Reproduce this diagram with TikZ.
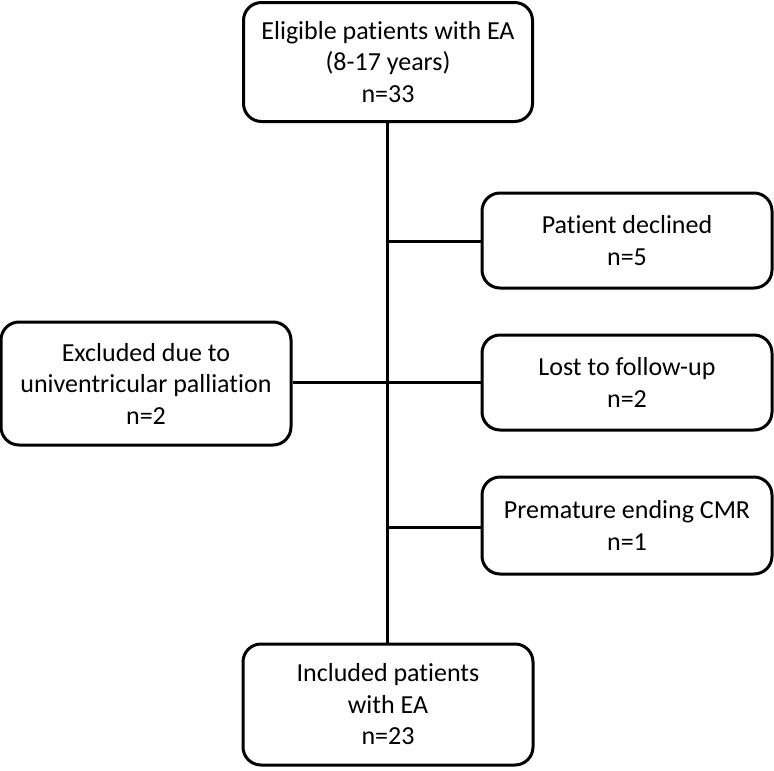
\documentclass[tikz,border=0pt]{standalone}
\usepackage{fontspec}
\setmainfont{Carlito}[Ligatures={NoCommon}]
\begin{document}
\begin{tikzpicture}[x=1pt,y=-1pt,
  box/.style={draw=black,line width=3pt,rounded corners=18pt,align=center,
    font=\fontsize{26}{31.5}\selectfont,inner sep=0pt},
  conn/.style={draw=black,line width=3pt}]
\useasboundingbox (0,0) rectangle (774,771);
\node[box,minimum width=289pt,minimum height=119pt] (top) at (388,62) {Eligible patients with EA\\(8-17 years)\\n=33};
\node[box,minimum width=290pt,minimum height=95pt] (declined) at (627,240.5) {Patient declined\\n=5};
\node[box,minimum width=290pt,minimum height=123pt] (excl) at (146,383.5) {Excluded due to\\univentricular palliation\\n=2};
\node[box,minimum width=290pt,minimum height=95pt] (lost) at (627,382.5) {Lost to follow-up\\n=2};
\node[box,minimum width=290pt,minimum height=97pt] (prem) at (627,525.5) {Premature ending CMR\\n=1};
\node[box,minimum width=290pt,minimum height=121pt] (incl) at (388,704.5) {Included patients\\with EA\\n=23};
\coordinate (j1) at (387,241);
\coordinate (j2) at (387,382);
\coordinate (j3) at (387,527);
\draw[conn] (top.south -| j1) -- (incl.north -| j1);
\draw[conn] (j1) -- (declined.west |- j1);
\draw[conn] (excl.east |- j2) -- (lost.west |- j2);
\draw[conn] (j3) -- (prem.west |- j3);
\end{tikzpicture}
\end{document}
